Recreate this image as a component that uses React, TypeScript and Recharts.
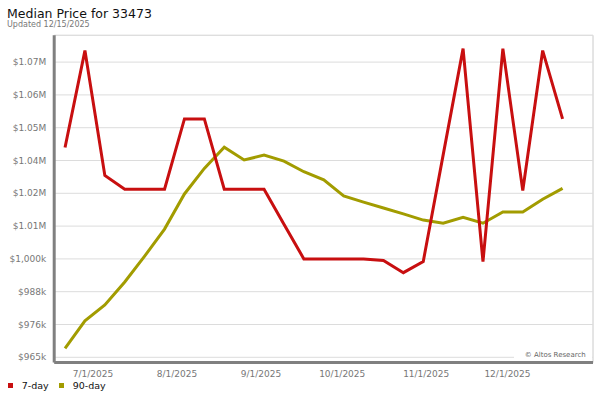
import React from 'react';
import { LineChart, Line, XAxis, YAxis, CartesianGrid, ReferenceLine } from 'recharts';

const dates = [
  '2025-06-20', '2025-06-27', '2025-07-04', '2025-07-11', '2025-07-18', '2025-07-25',
  '2025-08-01', '2025-08-08', '2025-08-15', '2025-08-22', '2025-08-29', '2025-09-05',
  '2025-09-12', '2025-09-19', '2025-09-26', '2025-10-03', '2025-10-10', '2025-10-17',
  '2025-10-24', '2025-10-31', '2025-11-07', '2025-11-14', '2025-11-21', '2025-11-28',
  '2025-12-05', '2025-12-12',
];

const sevenDay = [
  1039600, 1074100, 1029700, 1024800, 1024800, 1024800,
  1049800, 1049800, 1024800, 1024800, 1024800, 1012300,
  1000000, 1000000, 1000000, 1000000, 999400, 995100,
  999100, 1037000, 1074800, 999000, 1074800, 1024300,
  1074100, 1049800,
];

const ninetyDay = [
  968200, 978000, 983600, 991800, 1001000, 1010600,
  1023100, 1032200, 1039700, 1035200, 1036900, 1034800,
  1031000, 1028100, 1022400, 1020200, 1018100, 1016000,
  1013800, 1012700, 1014800, 1012700, 1016700, 1016700,
  1021200, 1025100,
];

const monthStarts = ['2025-07-01', '2025-08-01', '2025-09-01', '2025-10-01', '2025-11-01', '2025-12-01'];
const monthLabels = ['7/1/2025', '8/1/2025', '9/1/2025', '10/1/2025', '11/1/2025', '12/1/2025'];

const yTicks = [965000, 976667, 988333, 1000000, 1011667, 1023333, 1035000, 1046667, 1058333, 1070000];
const yTickLabels = ['$965k', '$976k', '$988k', '$1,000k', '$1.01M', '$1.02M', '$1.04M', '$1.05M', '$1.06M', '$1.07M'];

const RED = '#c80f10';
const OLIVE = '#a29c00';
const GRID = '#dcdcdc';
const AXIS = '#808080';
const FONT = "'DejaVu Sans', sans-serif";

const ORIGIN = Date.UTC(2025, 6, 1);
const toDay = (s: string) => {
  const [y, m, d] = s.split('-').map(Number);
  return (Date.UTC(y, m - 1, d) - ORIGIN) / 86400000;
};

const X_MIN = -14.81;
const X_MAX = 174.7;
const LX_MIN = -14.32;
const LX_MAX = 184.57;
const Y_MIN = 963150;
const Y_MAX = 1079535;

const rows = dates.map((d, i) => ({ day: toDay(d), d7: sevenDay[i], d90: ninetyDay[i] }));
const xTicks = monthStarts.map(toDay);

const yLabel = (v: number) => {
  let best = 0;
  yTicks.forEach((t, i) => {
    if (Math.abs(t - v) < Math.abs(yTicks[best] - v)) best = i;
  });
  return yTickLabels[best];
};
const xLabel = (v: number) => {
  let best = 0;
  xTicks.forEach((t, i) => {
    if (Math.abs(t - v) < Math.abs(xTicks[best] - v)) best = i;
  });
  return monthLabels[best];
};

export default function App() {
  return (
    <div style={{ position: 'absolute', left: 0, top: 0, width: 600, height: 400, fontFamily: FONT, background: '#fff' }}>
      <div style={{ position: 'absolute', left: 7, top: 6.4, fontSize: 12.5, color: '#111', whiteSpace: 'nowrap', lineHeight: 'normal' }}>
        Median Price for 33473
      </div>
      <div style={{ position: 'absolute', left: 7, top: 19.9, fontSize: 8, color: '#777', whiteSpace: 'nowrap', lineHeight: 'normal' }}>
        Updated 12/15/2025
      </div>
      <LineChart width={600} height={400} data={rows} margin={{ top: 35.3, right: 7, left: 0, bottom: 17.5 }}>
        <CartesianGrid stroke={GRID} strokeWidth={1} />
        <XAxis
          dataKey="day"
          type="number"
          domain={[X_MIN, X_MAX]}
          ticks={xTicks}
          interval={0}
          allowDataOverflow
          height={0}
          tick={false}
          tickLine={false}
          axisLine={false}
        />
        <XAxis
          xAxisId="lbl"
          dataKey="day"
          type="number"
          domain={[LX_MIN, LX_MAX]}
          ticks={xTicks}
          interval={0}
          allowDataOverflow
          height={20}
          tickFormatter={xLabel}
          tickLine={false}
          axisLine={{ stroke: AXIS, strokeWidth: 3 }}
          tick={{ fill: '#777', fontSize: 9, fontFamily: FONT }}
        />
        <YAxis
          type="number"
          domain={[Y_MIN, Y_MAX]}
          ticks={yTicks}
          interval={0}
          allowDataOverflow
          width={54.2}
          tickFormatter={yLabel}
          tickLine={false}
          axisLine={{ stroke: AXIS, strokeWidth: 3 }}
          tick={{ fill: '#777', fontSize: 9, fontFamily: FONT }}
        />
        <ReferenceLine y={Y_MAX} stroke={GRID} strokeWidth={1} />
        <ReferenceLine x={X_MAX} stroke={GRID} strokeWidth={1} />
        <Line type="linear" dataKey="d90" stroke={OLIVE} strokeWidth={3} dot={false} activeDot={false} isAnimationActive={false} />
        <Line type="linear" dataKey="d7" stroke={RED} strokeWidth={3} dot={false} activeDot={false} isAnimationActive={false} />
      </LineChart>
      <div style={{ position: 'absolute', left: 514, top: 350, width: 78, height: 11, background: '#fff', color: '#666', fontSize: 7, lineHeight: '11px', textAlign: 'right', boxSizing: 'border-box', whiteSpace: 'nowrap' }}>
        <span style={{ marginRight: 6.3 }}>© Altos Research</span>
      </div>
      <div style={{ position: 'absolute', left: 8, top: 383, width: 5, height: 5, background: RED }} />
      <div style={{ position: 'absolute', left: 21.7, top: 380.2, fontSize: 9.5, color: '#111', whiteSpace: 'nowrap', lineHeight: 'normal' }}>7-day</div>
      <div style={{ position: 'absolute', left: 58.7, top: 383, width: 5, height: 5, background: OLIVE }} />
      <div style={{ position: 'absolute', left: 72.7, top: 380.2, fontSize: 9.5, color: '#111', whiteSpace: 'nowrap', lineHeight: 'normal' }}>90-day</div>
    </div>
  );
}
